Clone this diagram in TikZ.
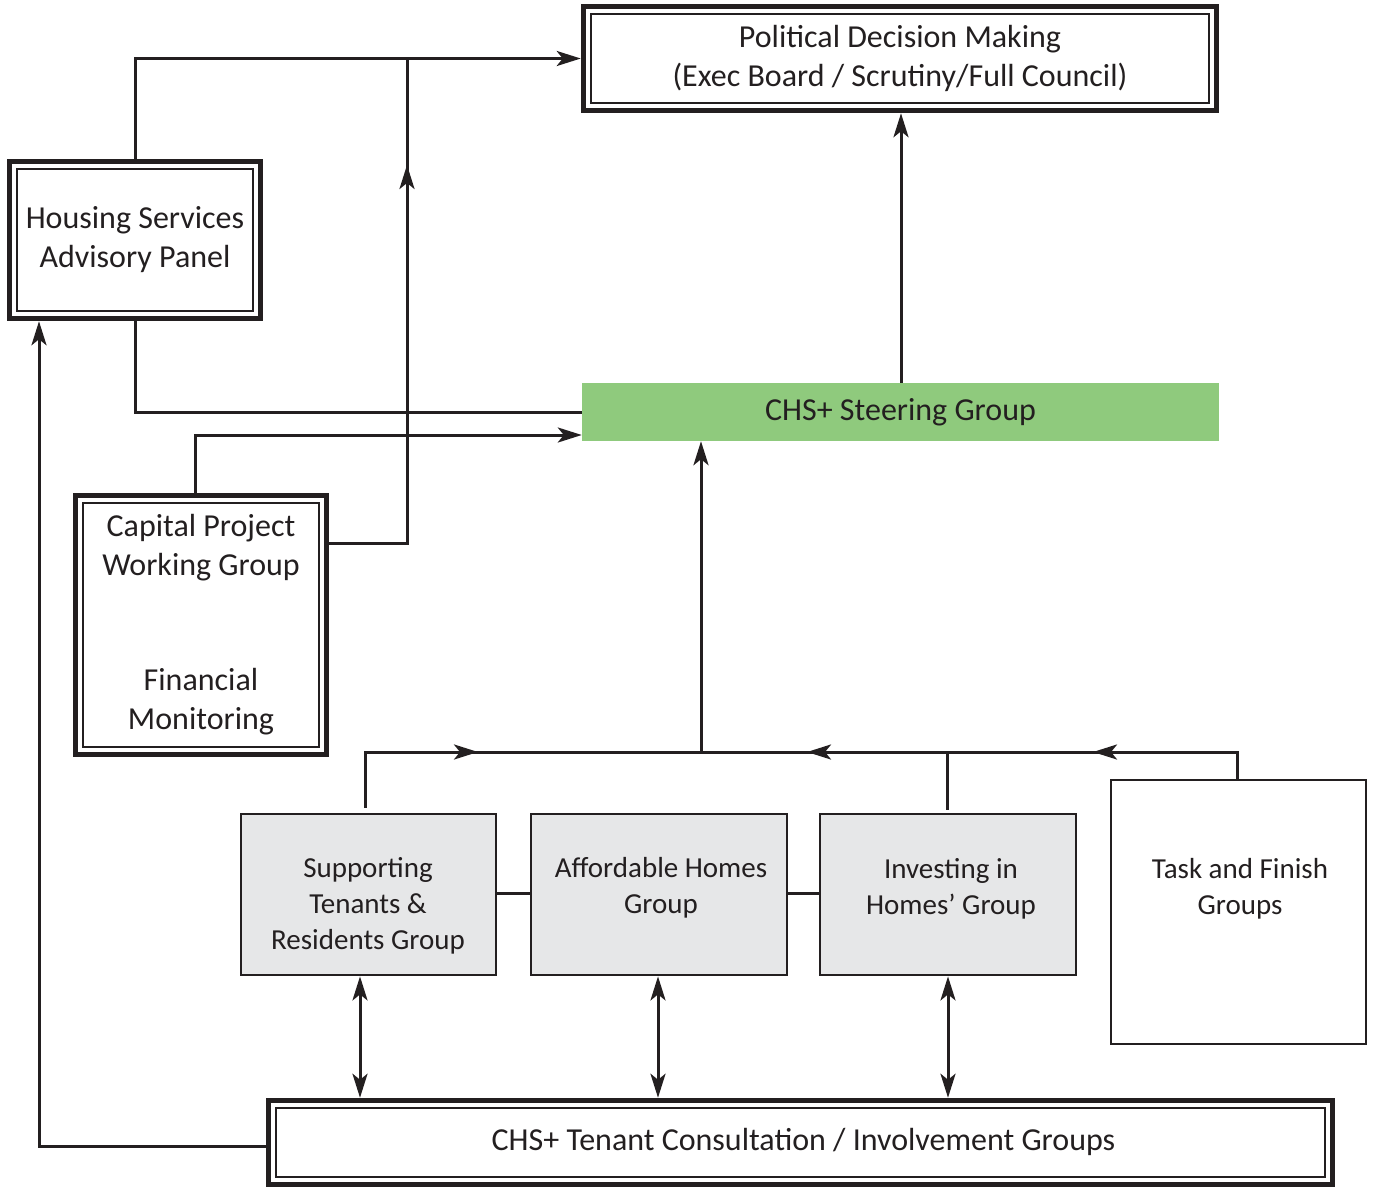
\documentclass[tikz,border=0pt]{standalone}
\usepackage{fontspec}
\setmainfont{Carlito}
\usetikzlibrary{arrows.meta}
\definecolor{ink}{HTML}{231F20}
\definecolor{steer}{HTML}{8FCA7D}
\definecolor{grp}{HTML}{E6E7E8}
\begin{document}
\begin{tikzpicture}[x=1pt,y=-1pt,
  every node/.style={text=ink},
  bigfont/.style={font=\fontsize{32}{39}\selectfont},
  smallfont/.style={font=\fontsize{29}{36}\selectfont},
  dblbox/.style={draw=ink, line width=5.5pt, fill=white, inner sep=0pt, align=center, bigfont},
  grpbox/.style={draw=ink, line width=2.8pt, fill=grp, inner sep=0pt},
  tfbox/.style={draw=ink, line width=2.4pt, fill=white, inner sep=0pt},
  grptext/.style={align=center, inner sep=0pt, smallfont},
  conn/.style={draw=ink, line width=3pt},
  arr/.style={-{Stealth[length=24pt,width=15pt,inset=6pt]}},
  darr/.style={{Stealth[length=24pt,width=15pt,inset=6pt]}-{Stealth[length=24pt,width=15pt,inset=6pt]}}]
\useasboundingbox (0,0) rectangle (1376,1189);

% boxes
\node[dblbox, minimum width=633pt, minimum height=104pt] (pol) at (900,58.5)
  {Political Decision Making\\(Exec Board / Scrutiny/Full Council)};
\node[dblbox, minimum width=251pt, minimum height=157pt] (hsap) at (135,240)
  {Housing Services\\Advisory Panel};
\node[dblbox, minimum width=251pt, minimum height=259pt] (cpwg) at (201,625)
  {Capital Project\\Working Group\\[76pt]Financial\\Monitoring};
\node[dblbox, minimum width=1064pt, minimum height=84pt] (ten) at (800.5,1142.5) {};
\node[bigfont, inner sep=0pt] (ten-t) at (803.5,1142) {CHS+ Tenant Consultation / Involvement Groups};
\node[fill=steer, minimum width=637pt, minimum height=58pt, inner sep=0pt, bigfont] (steer) at (900.5,412)
  {CHS+ Steering Group};

\node[grpbox, minimum width=255pt, minimum height=161pt] (sup) at (368.5,894.5) {};
\node[grpbox, minimum width=256pt, minimum height=161pt] (aff) at (659,894.5) {};
\node[grpbox, minimum width=256pt, minimum height=161pt] (inv) at (948,894.5) {};
\node[tfbox, minimum width=255pt, minimum height=264pt] (tf) at (1238.5,912) {};

\node[grptext] (sup-t) at (368,906) {Supporting\\Tenants \&\\Residents Group};
\node[grptext] (aff-t) at (661,888) {Affordable Homes\\Group};
\node[grptext] (inv-t) at (951,888.5) {Investing in\\Homes’ Group};
\node[grptext] (tf-t) at (1240,888.5) {Task and Finish\\Groups};

% inner thin lines of double boxes
\foreach \n in {pol,hsap,cpwg,ten}
  \draw[ink, line width=1.7pt] ([xshift=10.5pt,yshift=10.5pt]\n.south west) rectangle ([xshift=-10.5pt,yshift=-10.5pt]\n.north east);

% coordinates
\coordinate (j1) at (407,58.5);
\coordinate (a1) at (407,165);
\coordinate (c1) at (cpwg.east |- 0,543);
\coordinate (busL) at (365,752);
\coordinate (aR) at (478,752);
\coordinate (busM) at (701,752);
\coordinate (aL1) at (807,752);
\coordinate (busI) at (947,752);
\coordinate (aL2) at (1093,752);
\coordinate (busT) at (1237,752);

% top connectors
\draw[conn,arr] (hsap.north) |- (pol.west);
\draw[conn] (c1) -| (j1);
\draw[conn,arr] (c1) -| (a1);
\draw[conn] (hsap.south) |- (steer.west);
\draw[conn,arr] (cpwg.north -| 195,0) |- (steer.west |- 0,435);
\draw[conn,arr] (steer.north -| 901,0) -- (pol.south -| 901,0);

% bus
\draw[conn,shorten <=5pt] (sup.north -| busL) |- (busT) -- (tf.north -| busT);
\draw[conn,arr,shorten <=5pt] (sup.north -| busL) |- (aR);
\draw[conn,arr] (tf.north -| busT) |- (aL2);
\draw[conn,shorten <=3pt] (inv.north -| busI) -- (busI);
\draw[conn,arr] (busI) -- (aL1);
\draw[conn,arr] (busM) -- (steer.south -| busM);

% group links
\draw[conn] (sup.east |- 0,893) -- (aff.west |- 0,893);
\draw[conn] (aff.east |- 0,893) -- (inv.west |- 0,893);

% double arrows
\draw[conn,darr] (sup.south -| 360,0) -- (ten.north -| 360,0);
\draw[conn,darr] (aff.south -| 658,0) -- (ten.north -| 658,0);
\draw[conn,darr] (inv.south -| 948,0) -- (ten.north -| 948,0);

% tenant to HSAP
\draw[conn,arr] (ten.west |- 0,1146) -| (hsap.south -| 39,0);
\end{tikzpicture}
\end{document}
